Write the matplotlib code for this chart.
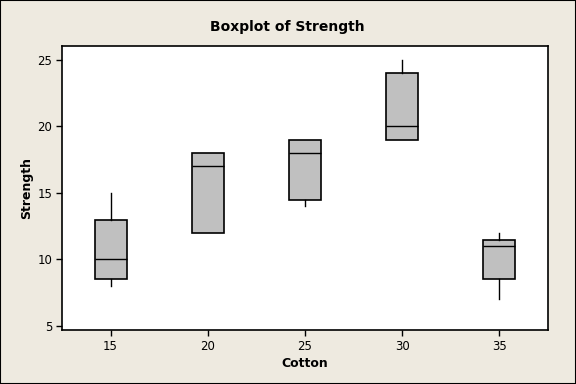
import numpy as np
import matplotlib
matplotlib.use("Agg")
import matplotlib.pyplot as plt
from matplotlib.patches import Rectangle

categories = ["15", "20", "25", "30", "35"]
strength_15 = [8, 9, 10, 11, 15]
strength_20 = [12, 12, 17, 18, 18]
strength_25 = [14, 15, 18, 19, 19]
strength_30 = [19, 19, 20, 23, 25]
strength_35 = [7, 10, 11, 11, 12]
groups = [strength_15, strength_20, strength_25, strength_30, strength_35]

stats = []
for lab, g in zip(categories, groups):
    g = np.asarray(g, dtype=float)
    q1, med, q3 = np.percentile(g, [25, 50, 75], method="weibull")
    stats.append(dict(label=lab, med=med, q1=q1, q3=q3,
                      whislo=g.min(), whishi=g.max(), fliers=[]))

bg = "#EEEAE0"
fig = plt.figure(figsize=(5.76, 3.84), dpi=100, facecolor=bg)
ax = fig.add_axes([62/576, 1-330/384, (548-62)/576, (330-46)/384])
ax.bxp(stats, positions=range(1, 6), widths=0.33, patch_artist=True,
       showcaps=False,
       boxprops=dict(facecolor="#C0C0C0", edgecolor="black", linewidth=1.2),
       medianprops=dict(color="black", linewidth=1.0),
       whiskerprops=dict(color="black", linewidth=1.0))
ax.set_xlim(0.5, 5.5)
ax.set_ylim(4.7, 26.05)
ax.set_yticks([5, 10, 15, 20, 25])
ax.set_xticks(range(1, 6))
ax.set_xticklabels(categories)
ax.tick_params(labelsize=8.5, length=4, width=1, direction="out", pad=3)
for s in ax.spines.values():
    s.set_linewidth(1.2)
ax.set_xlabel("Cotton", fontsize=9, fontweight="bold", labelpad=3)
ax.set_ylabel("Strength", fontsize=9, fontweight="bold", labelpad=3)
fig.text(287/576, 1-27/384, "Boxplot of Strength", ha="center", va="center",
         fontsize=10, fontweight="bold")
fig.patches.append(Rectangle((0, 0), 1, 1, transform=fig.transFigure,
                             fill=False, edgecolor="black", linewidth=1.5))
fig.savefig("out.png", dpi=100, facecolor=bg)
